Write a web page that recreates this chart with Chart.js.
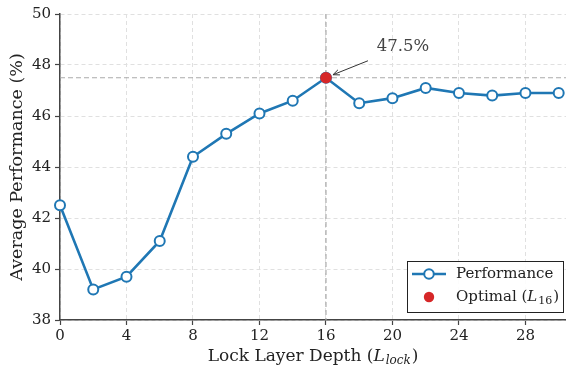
<!DOCTYPE html>
<html>
<head>
<meta charset="utf-8">
<script src="https://cdn.jsdelivr.net/npm/chart.js@4"></script>
<style>
  html, body { margin: 0; padding: 0; background: #fff; }
  #wrap { width: 566px; height: 369px; }
</style>
</head>
<body>
<div id="wrap"><canvas id="chart" width="566" height="369"></canvas></div>
<script>
const layers = [0, 2, 4, 6, 8, 10, 12, 14, 16, 18, 20, 22, 24, 26, 28, 30];
const performance = [42.5, 39.2, 39.7, 41.1, 44.4, 45.3, 46.1, 46.6, 47.5, 46.5, 46.7, 47.1, 46.9, 46.8, 46.9, 46.9];
const optimalLayer = 16;
const optimalValue = 47.5;
const xTicks = [0, 4, 8, 12, 16, 20, 24, 28];
const yTicks = [38, 40, 42, 44, 46, 48, 50];

const SERIF = '"DejaVu Serif", serif';
const BLUE = '#1f77b4';
const RED = '#d62728';

// draw "pre L_sub)" with italic L and a small subscript
function mixedText(ctx, x, y, pre, sub, size, align) {
  const f = size + 'px ' + SERIF;
  const fi = 'italic ' + size + 'px ' + SERIF;
  const fsub = (sub.italic ? 'italic ' : '') + Math.round(size * 0.7) + 'px ' + SERIF;
  ctx.font = f; const w1 = ctx.measureText(pre).width;
  ctx.font = fi; const w2 = ctx.measureText('L').width;
  ctx.font = fsub; const w3 = ctx.measureText(sub.text).width;
  ctx.font = f; const w4 = ctx.measureText(')').width;
  let sx = align === 'center' ? x - (w1 + w2 + w3 + w4 + 2) / 2 : x;
  ctx.textBaseline = 'middle';
  ctx.textAlign = 'left';
  ctx.font = f; ctx.fillText(pre, sx, y); sx += w1;
  ctx.font = fi; ctx.fillText('L', sx, y); sx += w2 + 1;
  ctx.font = fsub; ctx.fillText(sub.text, sx, y + size * 0.25); sx += w3 + 1;
  ctx.font = f; ctx.fillText(')', sx, y);
}

const extras = {
  id: 'extras',
  beforeDatasetsDraw(chart) {
    const { ctx, chartArea: a, scales: { x, y } } = chart;
    const px = x.getPixelForValue(optimalLayer);
    const py = y.getPixelForValue(optimalValue);
    ctx.save();
    ctx.strokeStyle = '#aaaaaa';
    ctx.lineWidth = 1.2;
    ctx.setLineDash([5, 3]);
    ctx.beginPath();
    ctx.moveTo(px, a.top); ctx.lineTo(px, a.bottom);
    ctx.moveTo(a.left, py); ctx.lineTo(a.right, py);
    ctx.stroke();
    ctx.restore();
  },
  afterDraw(chart) {
    const { ctx, chartArea: a, scales: { x, y } } = chart;
    const px = x.getPixelForValue(optimalLayer);
    const py = y.getPixelForValue(optimalValue);
    ctx.save();
    // annotation
    ctx.fillStyle = '#444';
    ctx.font = '16.5px ' + SERIF;
    ctx.textAlign = 'center';
    ctx.textBaseline = 'middle';
    ctx.fillText(optimalValue.toFixed(1) + '%', px + 77, py - 31);
    const sx = px + 42, sy = py - 17, ex = px + 7, ey = py - 3;
    ctx.strokeStyle = '#333';
    ctx.lineWidth = 1;
    ctx.beginPath(); ctx.moveTo(sx, sy); ctx.lineTo(ex, ey); ctx.stroke();
    const ang = Math.atan2(ey - sy, ex - sx);
    ctx.beginPath();
    ctx.moveTo(ex - 7 * Math.cos(ang - 0.4), ey - 7 * Math.sin(ang - 0.4));
    ctx.lineTo(ex, ey);
    ctx.lineTo(ex - 7 * Math.cos(ang + 0.4), ey - 7 * Math.sin(ang + 0.4));
    ctx.stroke();

    // axis titles
    ctx.fillStyle = '#222';
    mixedText(ctx, 313, 357, 'Lock Layer Depth (', { text: 'lock', italic: true }, 17, 'center');
    ctx.save();
    ctx.translate(17, (a.top + a.bottom) / 2);
    ctx.rotate(-Math.PI / 2);
    ctx.font = '17.5px ' + SERIF;
    ctx.textAlign = 'center';
    ctx.textBaseline = 'middle';
    ctx.fillText('Average Performance (%)', 0, 0);
    ctx.restore();

    // legend
    const lx = 407, ly = 261, lw = 156, lh = 51;
    ctx.fillStyle = 'rgba(255,255,255,0.9)';
    ctx.fillRect(lx, ly, lw, lh);
    ctx.strokeStyle = '#222';
    ctx.lineWidth = 1;
    ctx.strokeRect(lx + 0.5, ly + 0.5, lw, lh);
    ctx.strokeStyle = BLUE;
    ctx.lineWidth = 2.5;
    ctx.beginPath(); ctx.moveTo(lx + 5, ly + 13); ctx.lineTo(lx + 39, ly + 13); ctx.stroke();
    ctx.fillStyle = '#fff';
    ctx.lineWidth = 2;
    ctx.beginPath(); ctx.arc(lx + 22, ly + 13, 4.8, 0, Math.PI * 2); ctx.fill(); ctx.stroke();
    ctx.fillStyle = RED;
    ctx.beginPath(); ctx.arc(lx + 22, ly + 36, 5.2, 0, Math.PI * 2); ctx.fill();
    ctx.fillStyle = '#222';
    ctx.font = '15px ' + SERIF;
    ctx.textAlign = 'left';
    ctx.textBaseline = 'middle';
    ctx.fillText('Performance', lx + 49, ly + 13);
    mixedText(ctx, lx + 49, ly + 36, 'Optimal (', { text: '16', italic: false }, 15, 'left');
    ctx.restore();
  }
};

const gridOpts = {
  color: '#e0e0e0',
  lineWidth: 1,
  tickColor: '#444',
  tickLength: 5,
  tickBorderDash: [],
  tickWidth: 1.2
};

new Chart(document.getElementById('chart'), {
  type: 'scatter',
  data: {
    datasets: [
      {
        label: 'Performance',
        data: layers.map((l, i) => ({ x: l, y: performance[i] })),
        showLine: true,
        borderColor: BLUE,
        borderWidth: 2.6,
        pointRadius: 5,
        pointBorderWidth: 2,
        pointBackgroundColor: '#fff',
        pointBorderColor: BLUE,
        clip: false,
        order: 2
      },
      {
        label: 'Optimal',
        data: [{ x: optimalLayer, y: optimalValue }],
        pointRadius: 5.8,
        pointBackgroundColor: RED,
        pointBorderColor: RED,
        pointBorderWidth: 0,
        order: 1
      }
    ]
  },
  options: {
    responsive: false,
    animation: false,
    layout: { autoPadding: false, padding: { top: 14, right: 0, left: 0, bottom: 0 } },
    plugins: { legend: { display: false }, tooltip: { enabled: false } },
    scales: {
      x: {
        type: 'linear',
        min: 0,
        max: 30.44,
        afterBuildTicks: s => { s.ticks = xTicks.map(v => ({ value: v })); },
        afterFit: s => { s.height = 49; },
        grid: gridOpts,
        border: { color: '#444', width: 1.5, dash: [4, 3] },
        ticks: { color: '#222', font: { family: SERIF, size: 15 }, padding: 2, maxRotation: 0 }
      },
      y: {
        min: 38,
        max: 50,
        afterBuildTicks: s => { s.ticks = yTicks.map(v => ({ value: v })); },
        afterFit: s => { s.width = 60; },
        grid: gridOpts,
        border: { color: '#444', width: 1.5, dash: [4, 3] },
        ticks: { color: '#222', font: { family: SERIF, size: 15 }, padding: 4 }
      }
    }
  },
  plugins: [extras]
});
</script>
</body>
</html>
